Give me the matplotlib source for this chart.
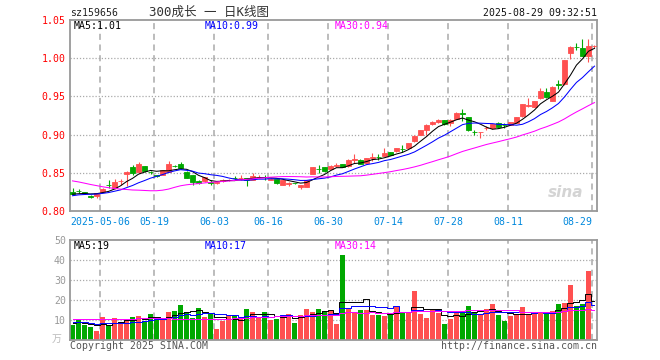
import numpy as np
import pandas as pd
import matplotlib
matplotlib.use('Agg')
import matplotlib.pyplot as plt

plt.rcParams['font.family'] = ['DejaVu Sans Mono', 'Noto Sans CJK SC']

# daily candles, 2025-04-24 .. 2025-08-29 (88 trading days)
opens = [
    0.8255, 0.8265, 0.8245, 0.8200, 0.8193, 0.8250, 0.8345, 0.8300, 0.8390, 0.8480,
    0.8570, 0.8505, 0.8590, 0.8515, 0.8465, 0.8475, 0.8515, 0.8595, 0.8610, 0.8515,
    0.8470, 0.8390, 0.8390, 0.8375, 0.8370, 0.8395, 0.8405, 0.8435, 0.8430, 0.8430,
    0.8410, 0.8445, 0.8445, 0.8410, 0.8415, 0.8340, 0.8355, 0.8365, 0.8315, 0.8320,
    0.8485, 0.8550, 0.8575, 0.8550, 0.8595, 0.8615, 0.8585, 0.8670, 0.8670, 0.8625,
    0.8700, 0.8710, 0.8725, 0.8770, 0.8780, 0.8815, 0.8825, 0.8910, 0.9000, 0.9055,
    0.9135, 0.9160, 0.9190, 0.9155, 0.9210, 0.9280, 0.9230, 0.9035, 0.9030, 0.9085,
    0.9080, 0.9155, 0.9125, 0.9125, 0.9155, 0.9240, 0.9380, 0.9365, 0.9475, 0.9560,
    0.9445, 0.9660, 0.9660, 1.0070, 1.0150, 1.0130, 1.0030, 1.0160]
closes = [
    0.8220, 0.8260, 0.8230, 0.8185, 0.8237, 0.8290, 0.8340, 0.8385, 0.8395, 0.8515,
    0.8500, 0.8615, 0.8520, 0.8505, 0.8460, 0.8535, 0.8610, 0.8590, 0.8560, 0.8435,
    0.8385, 0.8365, 0.8440, 0.8370, 0.8375, 0.8400, 0.8410, 0.8430, 0.8435, 0.8400,
    0.8460, 0.8450, 0.8440, 0.8425, 0.8365, 0.8400, 0.8360, 0.8360, 0.8340, 0.8405,
    0.8575, 0.8545, 0.8525, 0.8590, 0.8600, 0.8575, 0.8670, 0.8675, 0.8620, 0.8695,
    0.8705, 0.8705, 0.8760, 0.8735, 0.8825, 0.8810, 0.8890, 0.8985, 0.9055, 0.9130,
    0.9160, 0.9195, 0.9135, 0.9195, 0.9285, 0.9275, 0.9055, 0.9030, 0.9035, 0.9090,
    0.9140, 0.9095, 0.9120, 0.9165, 0.9225, 0.9395, 0.9385, 0.9440, 0.9570, 0.9490,
    0.9625, 0.9655, 0.9975, 1.0150, 1.0145, 1.0030, 1.0155, 1.0165]
highs = [
    0.8295, 0.8285, 0.8255, 0.8215, 0.8240, 0.8295, 0.8400, 0.8420, 0.8415, 0.8520,
    0.8600, 0.8635, 0.8595, 0.8525, 0.8475, 0.8540, 0.8650, 0.8605, 0.8640, 0.8530,
    0.8475, 0.8400, 0.8445, 0.8400, 0.8395, 0.8415, 0.8420, 0.8460, 0.8465, 0.8435,
    0.8500, 0.8465, 0.8470, 0.8435, 0.8420, 0.8405, 0.8385, 0.8370, 0.8345, 0.8410,
    0.8580, 0.8600, 0.8580, 0.8600, 0.8625, 0.8620, 0.8675, 0.8750, 0.8675, 0.8700,
    0.8760, 0.8745, 0.8825, 0.8775, 0.8830, 0.8865, 0.8895, 0.8990, 0.9060, 0.9135,
    0.9175, 0.9200, 0.9195, 0.9200, 0.9290, 0.9330, 0.9235, 0.9065, 0.9035, 0.9110,
    0.9145, 0.9160, 0.9150, 0.9170, 0.9230, 0.9400, 0.9480, 0.9445, 0.9615, 0.9615,
    0.9630, 0.9710, 0.9980, 1.0160, 1.0200, 1.0250, 1.0250, 1.0170]
lows = [
    0.8210, 0.8240, 0.8220, 0.8170, 0.8175, 0.8245, 0.8295, 0.8290, 0.8340, 0.8330,
    0.8475, 0.8500, 0.8505, 0.8490, 0.8445, 0.8470, 0.8510, 0.8570, 0.8555, 0.8430,
    0.8345, 0.8355, 0.8385, 0.8340, 0.8350, 0.8385, 0.8395, 0.8400, 0.8410, 0.8330,
    0.8405, 0.8430, 0.8405, 0.8400, 0.8355, 0.8335, 0.8325, 0.8350, 0.8285, 0.8315,
    0.8480, 0.8500, 0.8515, 0.8545, 0.8575, 0.8570, 0.8580, 0.8630, 0.8615, 0.8620,
    0.8660, 0.8670, 0.8720, 0.8730, 0.8775, 0.8770, 0.8820, 0.8905, 0.8995, 0.9000,
    0.9125, 0.9150, 0.9130, 0.9110, 0.9205, 0.9180, 0.9050, 0.8990, 0.8950, 0.9060,
    0.9075, 0.9090, 0.9090, 0.9120, 0.9150, 0.9235, 0.9365, 0.9360, 0.9470, 0.9485,
    0.9440, 0.9595, 0.9655, 0.9985, 1.0110, 1.0025, 0.9945, 1.0140]
# volume, 万手
volumes = [
    7.7, 10.0, 7.7, 6.7, 4.7, 11.7, 7.7, 11.2, 9.2, 9.7,
    11.7, 12.2, 9.5, 13.2, 10.2, 10.2, 14.2, 14.7, 17.7, 14.2,
    11.2, 16.2, 11.7, 13.2, 5.7, 9.7, 12.4, 12.4, 10.7, 15.7,
    14.2, 11.2, 14.2, 10.2, 10.7, 11.7, 13.2, 8.7, 12.7, 15.7,
    14.2, 15.7, 14.7, 14.5, 8.2, 42.4, 15.7, 14.2, 15.2, 15.2,
    12.7, 12.7, 12.2, 13.2, 16.7, 14.2, 14.2, 24.3, 13.2, 11.2,
    15.2, 13.7, 8.2, 10.7, 13.7, 14.7, 17.2, 14.2, 12.7, 15.7,
    18.2, 12.7, 9.7, 12.2, 13.2, 16.7, 12.7, 13.7, 14.2, 13.2,
    14.7, 18.2, 18.7, 27.3, 17.2, 18.2, 34.3, 0.7]

# 29 days before the window (only needed to start the moving averages)
prior_closes = [
    0.866, 0.872, 0.870, 0.868, 0.874, 0.871, 0.866, 0.869, 0.865, 0.870,
    0.868, 0.864, 0.862, 0.845, 0.832, 0.818, 0.790, 0.795, 0.805, 0.812,
    0.815, 0.818, 0.816, 0.820, 0.821, 0.823, 0.821, 0.822, 0.822]
prior_volumes = [
    9, 8.5, 10, 9, 8, 9.5, 10, 8, 9, 10.5,
    9, 8.5, 9.5, 12, 10, 11, 28, 24, 14, 11.5,
    10, 9.5, 10.5, 9, 9.5, 9, 8.5, 9.5, 8.8]

tick_idx = [5, 14, 24, 33, 43, 53, 63, 73, 87]
tick_labels = ['2025-05-06', '05-19', '06-03', '06-16', '06-30',
               '07-14', '07-28', '08-11', '08-29']

RED = '#ff5050'
GREEN = '#00a800'
GRID = '#aaaaaa'

n = len(closes)
x = np.arange(n)
o = np.array(opens)
c = np.array(closes)
h = np.array(highs)
l = np.array(lows)
v = np.array(volumes)
up = c >= o
cols = np.where(up, RED, GREEN)

full_c = pd.Series(prior_closes + closes)
full_v = pd.Series(prior_volumes + volumes)
np_ = len(prior_closes)
ma = {k: full_c.rolling(k).mean().values[np_:] for k in (5, 10, 30)}
vma = {k: full_v.rolling(k).mean().values[np_:] for k in (5, 10, 30)}
ma_cols = {5: 'black', 10: '#0000ff', 30: '#ff00ff'}


def px(xp, yp):
    return xp / 660, 1 - yp / 360


fig = plt.figure(figsize=(6.6, 3.6), dpi=100)
ax = fig.add_axes([70 / 660, 1 - 211 / 360, 527 / 660, 191 / 360])
axv = fig.add_axes([70 / 660, 1 - 340 / 360, 527 / 660, 100 / 360])

for a in (ax, axv):
    a.set_xlim(-0.42, n - 1 + 0.42)
    for t in tick_idx:
        a.axvline(t - 0.4, color=GRID, lw=1.1, ls=(0, (4, 3)), zorder=0)
    for s in a.spines.values():
        s.set_color('#999999')
        s.set_linewidth(1.3)
    a.tick_params(length=0, labelsize=7.1)

# price panel
ax.set_ylim(0.80, 1.05)
for yy in [0.85, 0.90, 0.95, 1.00]:
    ax.axhline(yy, color=GRID, lw=0.9, ls=(0, (1, 1.5)), zorder=0)
ax.vlines(x, l, h, colors=cols, lw=0.8, zorder=2)
ax.bar(x, np.abs(c - o), bottom=np.minimum(o, c), width=0.8, color=cols,
       edgecolor=cols, linewidth=0.6, zorder=3)
for k in (5, 10, 30):
    ax.plot(x, ma[k], color=ma_cols[k], lw=0.75, zorder=4)
ax.set_yticks([0.80, 0.85, 0.90, 0.95, 1.00, 1.05])
ax.set_yticklabels(['%.2f' % t for t in [0.80, 0.85, 0.90, 0.95, 1.00, 1.05]])
ax.tick_params(axis='y', labelcolor='#ff0000', pad=3)
ax.set_xticks([t - 0.4 for t in tick_idx])
ax.set_xticklabels(tick_labels, color='#0088dd')
ax.tick_params(axis='x', pad=4)
ax.get_xticklabels()[-1].set_ha('right')

# sina watermark
ax.text(0.975, 0.06, 'sina', transform=ax.transAxes, ha='right', va='bottom',
        fontsize=11, fontweight='bold', style='italic', color='#d4d4d4',
        family='DejaVu Sans')

# volume panel
axv.set_ylim(0, 50)
for yy in [10, 20, 30, 40]:
    axv.axhline(yy, color=GRID, lw=0.9, ls=(0, (1, 1.5)), zorder=0)
axv.bar(x, v, width=0.82, color=cols, zorder=2)
for k in (5, 10, 30):
    axv.plot(x, vma[k], color=ma_cols[k], lw=0.7, drawstyle='steps-mid', zorder=3)
axv.set_yticks([10, 20, 30, 40, 50])
axv.set_yticklabels(['10', '20', '30', '40', '50'])
axv.tick_params(axis='y', labelcolor='#999999', pad=3)
axv.set_xticks([])

# header and labels
fig.text(*px(70, 13), 'sz159656', ha='left', va='center', fontsize=7.1, color='#222222')
fig.text(*px(209, 12.5), '300成长 一 日K线图', ha='center', va='center', fontsize=9, color='#333333')
fig.text(*px(597, 13), '2025-08-29 09:32:51', ha='right', va='center', fontsize=7.1, color='#111111')

fig.text(*px(74, 26), 'MA5:%.2f' % ma[5][-1], ha='left', va='center', fontsize=7.1, color='black')
fig.text(*px(205, 26), 'MA10:%.2f' % ma[10][-1], ha='left', va='center', fontsize=7.1, color='#0000ff')
fig.text(*px(335, 26), 'MA30:%.2f' % ma[30][-1], ha='left', va='center', fontsize=7.1, color='#ff00ff')

fig.text(*px(74, 246), 'MA5:%d' % int(vma[5][-1]), ha='left', va='center', fontsize=7.1, color='black')
fig.text(*px(205, 246), 'MA10:%d' % int(vma[10][-1]), ha='left', va='center', fontsize=7.1, color='#0000ff')
fig.text(*px(335, 246), 'MA30:%d' % int(vma[30][-1]), ha='left', va='center', fontsize=7.1, color='#ff00ff')

fig.text(*px(57, 339), '万', ha='center', va='center', fontsize=7.1, color='#bbbbbb')
fig.text(*px(70, 346), 'Copyright 2025 SINA.COM', ha='left', va='center', fontsize=7.1, color='#555555')
fig.text(*px(597, 346), 'http://finance.sina.com.cn', ha='right', va='center', fontsize=7.1, color='#555555')

fig.savefig('out.png', dpi=100)
